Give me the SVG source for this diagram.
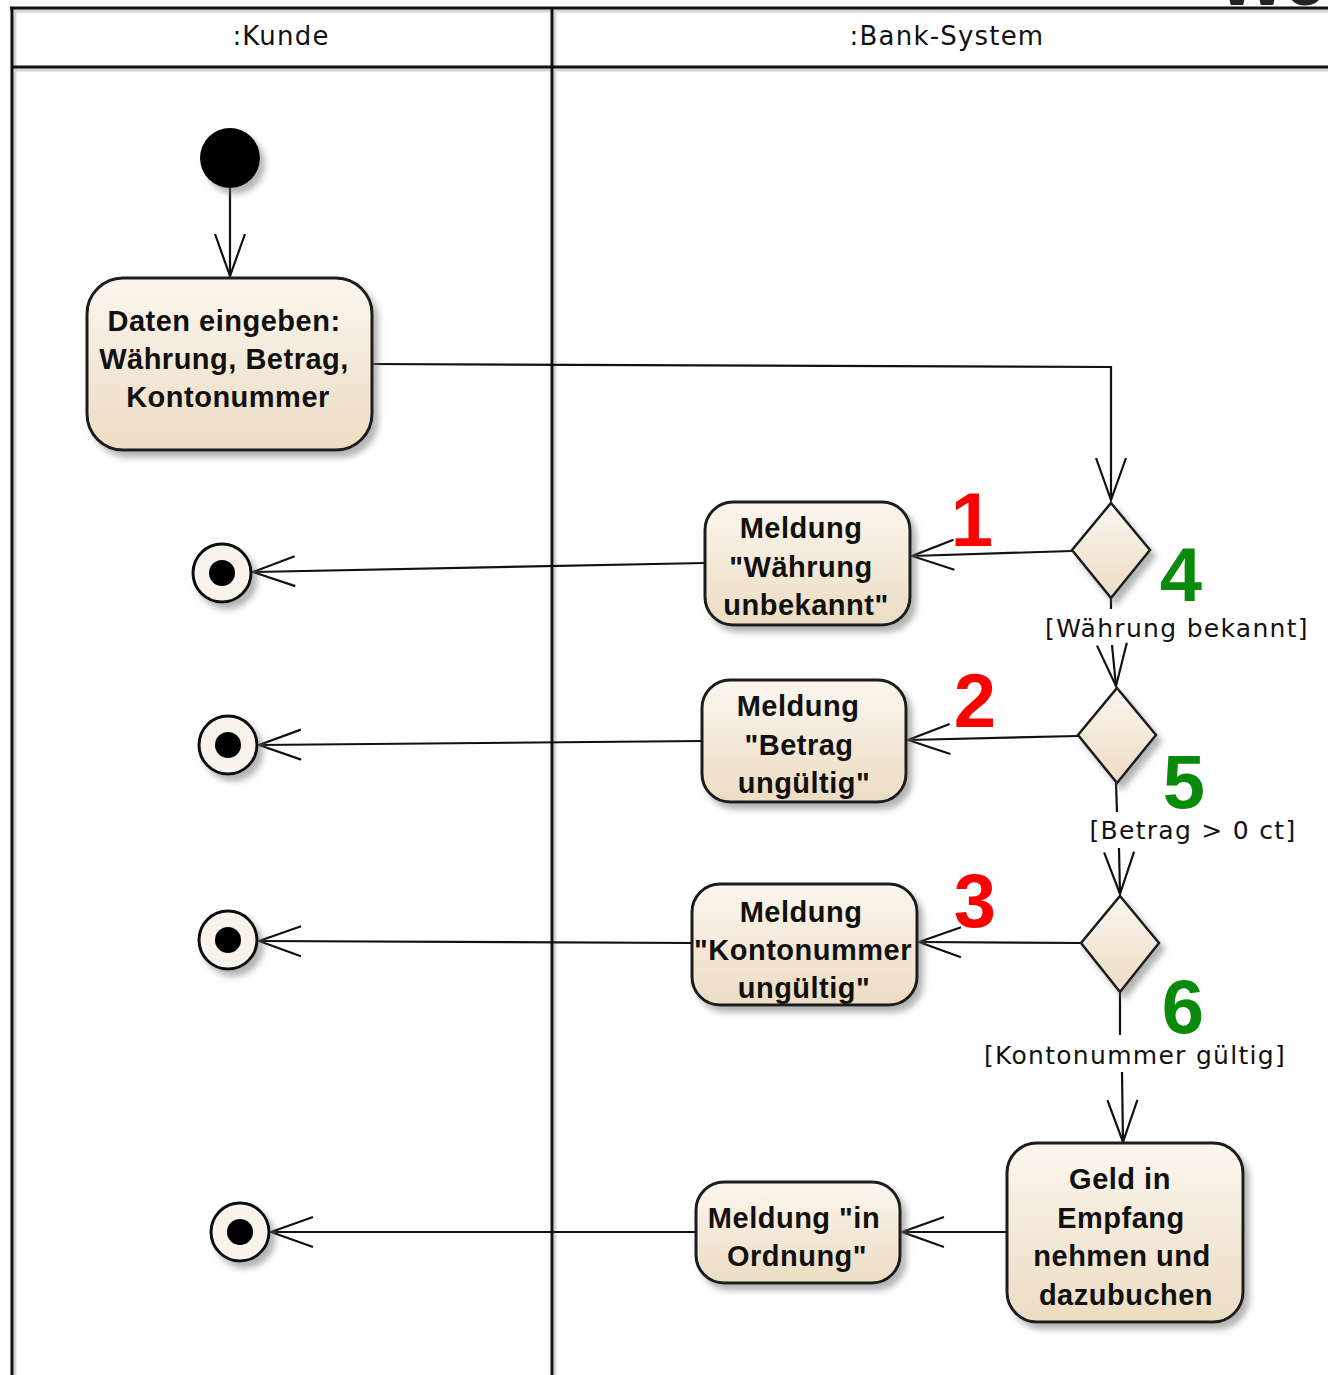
<svg xmlns="http://www.w3.org/2000/svg" width="1328" height="1375" viewBox="0 0 1328 1375">
<style>
.lane{stroke:#111;stroke-width:3;fill:none}
.laneSh{stroke:#d6d6d6;stroke-width:3;fill:none}
.hdr{font-family:"DejaVu Sans",sans-serif;font-size:26px;fill:#111;text-anchor:middle;letter-spacing:1.2px}
.act{fill:url(#actGrad);stroke:#1a1a1a;stroke-width:3;filter:url(#sh)}
.lbl{font-family:"Liberation Sans",Arial,sans-serif;font-weight:bold;font-size:29px;fill:#111;text-anchor:middle;letter-spacing:0.5px}
.guard{font-family:"DejaVu Sans",sans-serif;font-size:25px;fill:#111;text-anchor:middle;letter-spacing:1.3px}
.edge{stroke:#111;stroke-width:2.2;fill:none;marker-end:url(#open)}
.num{font-family:"Liberation Sans",Arial,sans-serif;font-weight:bold;font-size:76px;text-anchor:middle}
.red{fill:#ff0000}
.green{fill:#0a8a0a}
.dec{fill:url(#actGrad);stroke:#1a1a1a;stroke-width:2.5;filter:url(#sh)}
.fin{fill:#f8f3ea;stroke:#111;stroke-width:3;filter:url(#sh)}
</style>
<defs>
<linearGradient id="actGrad" x1="0" y1="0" x2="0" y2="1">
<stop offset="0" stop-color="#fbf6ee"/>
<stop offset="1" stop-color="#ecdcc3"/>
</linearGradient>
<filter id="sh" x="-20%" y="-20%" width="150%" height="150%">
<feDropShadow dx="5" dy="6" stdDeviation="3" flood-color="#777" flood-opacity="0.55"/>
</filter>
<marker id="open" markerUnits="userSpaceOnUse" viewBox="-44 -18 48 36" markerWidth="48" markerHeight="36" refX="0" refY="0" orient="auto" overflow="visible">
<path d="M-42,-15 L0,0 L-42,15" fill="none" stroke="#111" stroke-width="2.2"/>
</marker>
</defs>
<rect width="1328" height="1375" fill="#ffffff"/>
<text x="1218" y="5" font-family="Liberation Sans,Arial,sans-serif" font-weight="bold" font-size="72" fill="#222">We</text>
<g id="swimlanes">
<path class="laneSh" d="M10,11 L1328,11 M15,70 L1328,70 M15,8 L15,1375 M555,8 L555,1375"/>
<path class="lane" d="M10,8 L1328,8 M12,67 L1328,67 M12,8 L12,1375 M552,8 L552,1375"/>
<text class="hdr" x="281" y="45">:Kunde</text>
<text class="hdr" x="947" y="45">:Bank-System</text>
</g>
<g id="connectors">
<path class="edge" d="M230,188 L230,276"/>
<path class="edge" d="M372,364 L1111,367 L1111,500"/>
<path class="edge" d="M1072,551 L912,556"/>
<path class="edge" d="M705,563 L253,572"/>
<path class="edge" d="M1111,598 L1111,609 M1112,645 L1116,686"/>
<path class="edge" d="M1078,736 L908,740"/>
<path class="edge" d="M702,741 L259,745"/>
<path class="edge" d="M1116,783 L1117,812 M1119,848 L1120,894"/>
<path class="edge" d="M1081,943 L919,942"/>
<path class="edge" d="M692,943 L259,941"/>
<path class="edge" d="M1120,993 L1120,1035 M1122,1072 L1123,1142"/>
<path class="edge" d="M1007,1232 L902,1232"/>
<path class="edge" d="M696,1232 L271,1232"/>
</g>
<g id="start"><circle cx="230" cy="158" r="30" fill="#000" filter="url(#sh)"/></g>
<g id="n_daten">
<rect class="act" x="87" y="278" width="285" height="172" rx="36"/>
<text class="lbl" x="224" y="331">Daten eingeben:</text>
<text class="lbl" x="224" y="369">Währung, Betrag,</text>
<text class="lbl" x="228" y="407">Kontonummer</text>
</g>
<g id="d1"><path class="dec" d="M1111,503 L1150,550 L1111,598 L1072,550 Z"/></g>
<g id="d2"><path class="dec" d="M1117,688 L1156,735 L1117,783 L1078,735 Z"/></g>
<g id="d3"><path class="dec" d="M1120,896 L1159,943 L1120,992 L1081,943 Z"/></g>
<g id="n_w">
<rect class="act" x="705" y="502" width="205" height="123" rx="28"/>
<text class="lbl" x="801" y="538">Meldung</text>
<text class="lbl" x="801" y="577">"Währung</text>
<text class="lbl" x="806" y="615">unbekannt"</text>
</g>
<g id="n_b">
<rect class="act" x="702" y="680" width="204" height="122" rx="28"/>
<text class="lbl" x="798" y="716">Meldung</text>
<text class="lbl" x="799" y="755">"Betrag</text>
<text class="lbl" x="804" y="793">ungültig"</text>
</g>
<g id="n_k">
<rect class="act" x="692" y="884" width="225" height="121" rx="28"/>
<text class="lbl" x="801" y="922">Meldung</text>
<text class="lbl" x="803" y="960">"Kontonummer</text>
<text class="lbl" x="804" y="998">ungültig"</text>
</g>
<g id="n_g">
<rect class="act" x="1007" y="1143" width="236" height="179" rx="30"/>
<text class="lbl" x="1120" y="1189">Geld in</text>
<text class="lbl" x="1121" y="1228">Empfang</text>
<text class="lbl" x="1122" y="1266">nehmen und</text>
<text class="lbl" x="1126" y="1305">dazubuchen</text>
</g>
<g id="n_o">
<rect class="act" x="696" y="1182" width="204" height="101" rx="28"/>
<text class="lbl" x="794" y="1228">Meldung "in</text>
<text class="lbl" x="797" y="1266">Ordnung"</text>
</g>
<g id="f1"><circle class="fin" cx="222" cy="573" r="29"/><circle cx="222" cy="573" r="13" fill="#000"/></g>
<g id="f2"><circle class="fin" cx="228" cy="745" r="29"/><circle cx="228" cy="745" r="13" fill="#000"/></g>
<g id="f3"><circle class="fin" cx="228" cy="940" r="29"/><circle cx="228" cy="940" r="13" fill="#000"/></g>
<g id="f4"><circle class="fin" cx="240" cy="1232" r="29"/><circle cx="240" cy="1232" r="13" fill="#000"/></g>
<g id="guards">
<text class="guard" x="1177" y="637">[Währung bekannt]</text>
<text class="guard" x="1193" y="839">[Betrag &gt; 0 ct]</text>
<text class="guard" x="1135" y="1064">[Kontonummer gültig]</text>
</g>
<g id="numbers">
<text class="num red" x="972" y="546">1</text>
<text class="num red" x="975" y="727">2</text>
<text class="num red" x="975" y="927">3</text>
<text class="num green" x="1181" y="601">4</text>
<text class="num green" x="1184" y="808">5</text>
<text class="num green" x="1183" y="1033">6</text>
</g>
</svg>
